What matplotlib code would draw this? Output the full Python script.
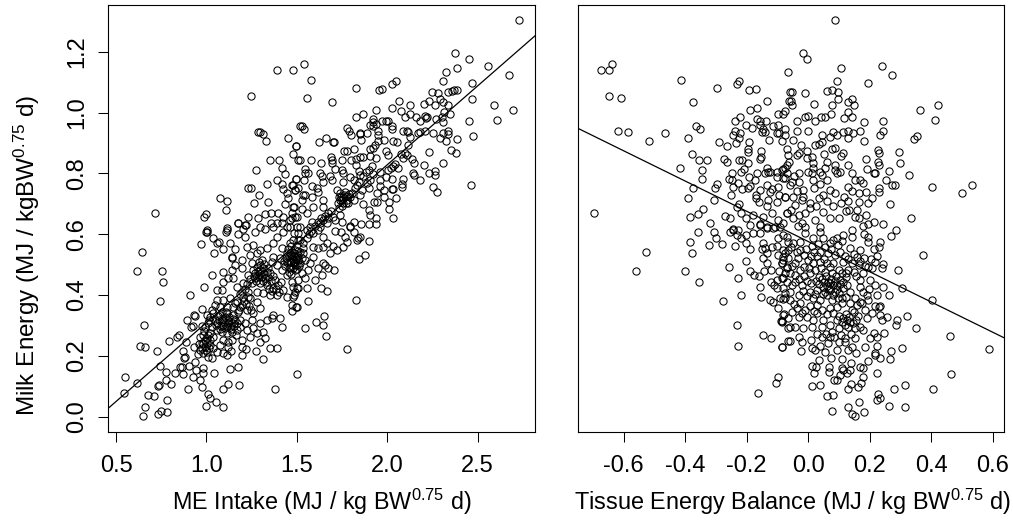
import matplotlib
matplotlib.use('Agg')
import matplotlib.pyplot as plt

plt.rcParams['font.family'] = ['Liberation Sans', 'DejaVu Sans']
plt.rcParams['mathtext.fontset'] = 'custom'
plt.rcParams['mathtext.rm'] = 'Liberation Sans'
plt.rcParams['mathtext.default'] = 'regular'

# (ME intake, milk energy)
intake_points = [
    (1.393,1.141),(1.480,1.141),(1.249,1.056),(1.286,.935),(1.297,.937),(1.312,.931),(1.330,.907),(1.454,.916),
    (1.498,.891),(1.480,.865),(1.354,.843),(1.404,.843),(1.417,.817),(1.434,.799),(1.275,.810),(1.389,.778),
    (1.337,.766),(1.232,.751),(1.247,.751),(1.293,.729),(1.077,.718),(1.114,.710),(1.264,.704),(1.343,.707),
    (1.109,.680),(.718,.671),(.996,.666),(.989,.655),
    (2.729,1.303),(2.376,1.196),(2.452,1.177),(2.389,1.148),(2.557,1.152),(2.326,1.134),(2.673,1.123),(2.308,1.105),
    (2.469,1.097),(1.540,1.160),(1.577,1.107),(1.559,1.049),(1.694,1.035),(1.826,1.082),(1.954,1.075),(1.974,1.079),
    (2.024,1.094),(2.048,1.105),(2.247,1.068),(2.284,1.064),(2.338,1.068),(2.360,1.071),(2.369,1.073),(2.389,1.075),
    (2.469,1.046),(2.066,1.038),(2.229,1.038),(2.290,1.046),(2.308,1.035),(2.203,1.027),(2.129,1.024),(2.266,1.024),
    (2.334,1.024),(2.029,1.016),(2.592,1.024),(2.697,1.009),(1.937,1.009),(2.074,1.005),(2.314,1.002),(1.869,.994),
    (1.826,.987),(2.129,.994),(2.098,.987),(2.160,.987),(2.210,.990),(2.221,.987),(2.216,.983),(2.302,.987),
    (2.345,.994),(2.269,.980),(2.179,.971),(2.308,.969),(2.452,.972),(2.607,.976),(1.919,.979),(1.919,.968),
    (1.974,.972),(1.993,.972),(2.005,.971),(1.939,.961),(1.906,.958),(1.919,.957),(2.029,.957),(2.029,.946),
    (1.777,.950),(1.791,.939),(1.801,.927),(1.529,.957),(1.540,.946),(1.948,.939),(1.948,.926),(1.887,.932),
    (1.850,.934),(1.847,.928),(2.090,.939),(2.112,.939),(2.118,.936),(2.173,.932),(2.184,.936),(2.207,.939),
    (2.253,.932),(2.339,.939),(2.339,.928),(2.308,.932),(2.476,.924),(2.129,.921),(1.856,.910),(1.980,.910),
    (2.389,.913),(2.295,.916),(2.326,.905),(1.664,.916),(1.622,.902),(1.703,.902),(1.708,.902),(1.496,.891),
    (2.035,.905),(2.053,.902),(1.948,.905),(1.935,.894),(2.114,.894),(1.906,.880),(1.924,.883),(1.762,.873),
    (1.780,.873),(1.819,.880),(2.352,.876),(2.382,.868),(2.234,.869),(1.993,.873),(2.005,.862),(2.079,.865),
    (2.098,.868),(2.112,.862),(1.688,.855),(1.694,.844),(1.906,.858),(1.869,.855),(1.850,.855),(1.937,.851),
    (2.135,.847),(2.148,.835),(1.515,.843),(1.577,.843),(1.633,.835),(1.749,.844),(1.801,.843),(1.826,.847),
    (2.085,.851),(2.308,.835),(2.203,.829),(2.046,.831),(2.035,.825),(2.059,.817),(2.022,.817),(1.546,.814),
    (1.564,.800),(1.546,.800),(1.694,.833),(1.712,.814),(1.749,.811),(1.826,.828),(1.845,.807),(1.850,.795),
    (2.266,.807),(2.266,.796),(2.229,.800),(2.142,.800),(2.148,.796),(1.961,.803),(1.924,.798),(2.002,.811),
    (1.629,.800),(1.638,.792),(1.684,.792),(1.694,.778),(2.183,.777),(2.085,.781),(2.026,.781),(1.993,.789),
    (1.496,.781),(1.540,.777),(1.758,.800),(1.795,.789),(1.814,.778),(1.758,.773),(1.906,.778),(1.887,.769),
    (1.961,.777),(1.647,.771),(2.081,.764),(2.081,.756),(2.026,.750),(2.035,.750),(2.253,.755),(2.277,.738),
    (2.463,.763),(1.961,.758),(1.980,.745),(1.943,.734),(1.583,.758),(1.611,.751),(1.620,.740),(1.546,.729),
    (1.537,.729),(1.491,.745),(1.472,.762),(1.860,.745),(1.850,.729),(1.897,.751),(2.048,.718),(1.980,.723),
    (1.721,.745),(1.740,.734),(1.758,.723),(1.777,.712),(1.740,.712),(1.767,.740),(1.795,.723),(1.814,.712),
    (1.731,.723),(1.786,.701),(1.758,.701),(1.647,.712),(1.583,.721),(1.528,.712),(1.592,.690),(1.647,.690),
    (1.869,.699),(1.946,.707),(1.928,.705),(2.011,.705),(2.011,.682),(1.897,.680),(1.906,.663),(1.937,.654),
    (1.939,.633),(1.898,.633),(2.035,.652),(1.854,.633),(1.814,.641),(1.795,.624),(1.481,.690),(1.528,.682),
    (1.500,.657),(1.472,.652),(1.555,.668),(1.675,.668),(1.703,.657),(1.647,.647),(1.629,.636),(1.666,.636),
    (1.712,.646),(1.740,.663),(1.583,.641),(1.749,.641),
    (1.795,.627),(1.814,.608),(1.767,.592),(1.780,.575),(1.841,.586),(1.850,.592),(1.832,.581),(1.898,.579),
    (1.745,.608),(1.712,.611),(1.755,.557),(1.721,.548),(1.703,.561),(1.880,.530),(1.843,.519),(1.684,.537),
    (1.707,.482),(1.647,.504),(1.657,.498),(1.675,.488),(1.620,.488),(1.638,.466),(1.601,.449),(1.564,.482),
    (1.633,.424),(1.666,.413),(1.559,.424),(1.564,.380),(1.825,.383),(1.651,.331),(1.609,.310),(1.646,.301),
    (1.546,.291),(1.664,.265),(1.775,.221),(1.502,.141),(1.496,.361),(1.472,.348),
    (1.509,.603),(1.518,.581),(1.555,.614),(1.592,.603),(1.620,.614),(1.647,.592),(1.666,.570),(1.629,.625),
    (1.574,.625),(1.518,.625),(1.481,.581),(1.491,.548),(1.537,.570),(1.592,.559),(1.620,.553),(1.647,.559),
    (1.500,.526),(1.537,.537),(1.481,.515),(1.518,.504),(1.546,.515),(1.592,.526),(1.574,.504),(1.491,.482),
    (1.528,.471),(1.546,.455),(1.509,.449),(1.481,.427),(1.491,.411),(1.509,.422),(1.481,.394),
    (1.47,.53),(1.49,.51),(1.50,.50),(1.48,.49),(1.46,.51),(1.46,.49),(1.47,.47),(1.52,.54),(1.44,.52),(1.45,.55),(1.47,.56),
    (.644,.541),(.618,.479),(.755,.479),(.762,.443),(.744,.380),(.655,.302),(.631,.232),(.662,.229),(.729,.214),
    (.742,.167),(.550,.130),(.618,.110),(.544,.077),(.679,.071),(.712,.067),(.734,.101),(.738,.104),(.775,.119),
    (.804,.108),(.779,.148),(.662,.030),(.649,.001),(.784,.055),(.749,.019),(.784,.016),(.734,.008),(.898,.089),
    (.825,.144),(.873,.141),(.854,.163),(.863,.163),(.924,.130),(.965,.119),(.978,.097),(1.044,.144),(1.120,.108),
    (1.089,.089),(1.181,.104),(1.133,.155),(1.175,.163),(1.009,.075),(1.020,.060),(1.052,.049),(.996,.034),(1.089,.030),
    (1.380,.089),(1.312,.188),(1.349,.225),(1.393,.225),(1.275,.214),(1.220,.221),(1.197,.203),(1.297,.244),
    (1.323,.258),(.791,.247),(.839,.260),(.849,.269),(.891,.318),(.915,.294),(.930,.335),(.937,.330),(.928,.299),
    (.887,.244),(.930,.229),(.873,.214),(.882,.197),(.878,.191),(.904,.167),(.934,.180),(.943,.153),(.983,.158),(.983,.142),
    (.910,.401),(.989,.427),(.978,.354),(.972,.568),(.996,.608),(1.005,.608),(1.039,.586),(1.057,.570),(1.044,.539),
    (1.072,.575),(1.133,.570),(1.089,.550),(1.157,.550),(1.144,.524),(1.107,.608),(1.114,.614),(1.175,.636),(1.218,.630),
    (1.175,.600),(1.214,.590),(1.205,.616),(1.269,.608),(1.325,.616),
    (.965,.263),(.983,.268),(1.002,.257),(.974,.241),(.993,.230),(.965,.219),(.983,.208),(1.002,.213),(1.011,.197),
    (1.029,.191),(1.020,.235),(1.039,.224),(1.057,.213),(1.076,.235),(1.094,.252),(1.122,.246),(1.140,.252),(1.122,.230),
    (1.135,.217),(1.089,.208),(1.113,.204),(1.196,.252),(1.196,.230),(1.164,.268),
    (1.002,.334),(1.020,.328),(1.011,.307),(1.029,.296),(.993,.296),(1.057,.285),(1.085,.279),(1.113,.274),(1.140,.279),
    (1.168,.285),(1.186,.296),(1.057,.307),(1.085,.317),(1.103,.328),(1.122,.317),(1.140,.307),(1.159,.317),(1.094,.301),
    (1.131,.296),(1.168,.307),(1.076,.334),(1.113,.339),(1.149,.334),(1.186,.317),(1.214,.307),
    (1.057,.383),(1.094,.383),(1.131,.389),(1.168,.378),(1.205,.394),(1.242,.389),(1.279,.378),(1.297,.356),(1.260,.339),
    (1.223,.350),(1.186,.361),(1.149,.361),(1.113,.361),(1.076,.361),(1.334,.317),(1.362,.323),(1.408,.323),(1.417,.293),
    (1.371,.334),(1.251,.317),(1.297,.307),(1.260,.290),(1.223,.285),(1.279,.274),(1.315,.279),(1.242,.263),
    (1.260,.482),(1.279,.493),(1.297,.482),(1.315,.488),(1.334,.477),(1.288,.466),(1.306,.460),(1.325,.455),(1.343,.460),
    (1.269,.455),(1.251,.438),(1.297,.438),(1.334,.433),(1.371,.422),(1.398,.433),(1.426,.416),(1.389,.400),(1.352,.400),
    (1.315,.405),(1.279,.411),(1.232,.411),(1.196,.411),(1.168,.427),(1.205,.438),(1.149,.455),(1.122,.455),(1.094,.444),
    (1.085,.416),(1.057,.416),(1.033,.466),(1.089,.477),(1.140,.482),(1.196,.488),(1.251,.504),(1.306,.515),(1.362,.510),
    (1.389,.498),(1.417,.482),(1.445,.466),(1.472,.444),(1.482,.400),(1.445,.394),(1.500,.422),(1.472,.367),(1.500,.361),
    (1.223,.559),(1.260,.564),(1.242,.531),(1.279,.537),(1.297,.548),(1.334,.553),(1.371,.570),(1.389,.592),(1.426,.608),
    (1.463,.625),(1.482,.603),(1.509,.581),(1.463,.570),(1.417,.553),(1.445,.537),(1.482,.537),(1.509,.515),(1.482,.504),
    (1.463,.493),(1.445,.509),(1.408,.520),(1.371,.526),(1.159,.498),(1.140,.520),(1.196,.515),
    (1.177,.636),(1.214,.630),(1.232,.658),(1.288,.652),(1.325,.666),(1.356,.671),(1.356,.636),(1.398,.668),(1.389,.636),
    (1.426,.658),(1.472,.668),(1.491,.658),(1.482,.690),(1.435,.699),(1.454,.718),(1.448,.736),(1.496,.780),(1.491,.745),
    (1.423,.748),(1.417,.764),(1.478,.762),(1.509,.751),(1.509,.844),(1.518,.957),(1.297,.625),(1.371,.625),(1.445,.625),
    (1.500,.625),(1.463,.647),(1.417,.636),(1.002,.614),(1.113,.619),
    # tightly packed core of the band
    (1.052,.302),(1.068,.316),(1.079,.297),(1.092,.322),(1.103,.291),(1.118,.305),(1.127,.327),(1.138,.289),(1.151,.298),
    (1.066,.331),(1.084,.345),(1.099,.312),(1.112,.299),(1.125,.311),(1.046,.318),(1.073,.288),(1.107,.343),(1.145,.321),
    (.982,.239),(.991,.251),(1.004,.243),(1.013,.226),(.973,.225),(.997,.219),(1.008,.268),(.985,.282),(1.019,.252),(.976,.298),
    (1.022,.276),(1.036,.263),(.958,.238),(.952,.207),(1.012,.319),(1.031,.352),(1.046,.368),(1.038,.341),
    (1.271,.471),(1.283,.478),(1.292,.459),(1.304,.472),(1.312,.447),(1.321,.469),(1.277,.447),(1.261,.463),(1.331,.442),
    (1.339,.488),(1.352,.473),(1.289,.508),(1.298,.497),(1.318,.502),(1.345,.421),(1.358,.447),(1.366,.461),(1.378,.448),
    (1.385,.421),(1.402,.409),(1.412,.441),(1.364,.412),(1.229,.467),(1.241,.452),(1.222,.436),(1.212,.419),(1.187,.402),
    (1.474,.521),(1.484,.528),(1.496,.519),(1.468,.507),(1.505,.532),(1.476,.541),(1.455,.527),(1.451,.505),(1.462,.538),
    (1.489,.497),(1.499,.486),(1.514,.496),(1.527,.522),(1.458,.476),(1.436,.494),(1.428,.512),(1.505,.545),(1.532,.553),
    (1.555,.588),(1.566,.601),(1.578,.611),(1.603,.628),(1.617,.641),(1.634,.652),(1.658,.661),(1.671,.652),(1.692,.676),
    (1.727,.701),(1.744,.722),(1.752,.711),(1.763,.729),(1.771,.702),(1.779,.724),(1.788,.733),(1.749,.692),(1.736,.686),
    (1.803,.736),(1.821,.752),(1.833,.761),(1.842,.771),(1.866,.792),(1.882,.803),(1.901,.812),(1.917,.824),
    (1.198,.368),(1.207,.381),(1.219,.371),(1.228,.392),(1.238,.362),(1.248,.349),(1.172,.344),(1.181,.351),(1.156,.372),
]

# (tissue energy balance, milk energy)
balance_points = [
    (-.639,1.160),(-.672,1.141),(-.646,1.141),(-.646,1.056),(-.607,1.049),(-.617,.938),(-.584,.935),(-.516,.905),
    (-.464,.932),(-.391,.916),(-.363,.957),(-.351,.946),(-.413,1.108),(-.373,1.035),(-.296,1.082),(-.232,1.094),
    (-.224,1.105),(-.192,1.075),(-.169,1.079),(-.133,1.038),(-.188,1.009),(-.166,1.016),(-.064,1.134),(-.059,1.068),
    (-.061,1.038),(-.097,.994),(-.082,.994),(-.075,1.005),(-.221,.987),(-.238,.972),(-.202,.960),(-.181,.950),
    (-.167,.980),(-.156,.972),(-.137,.972),(-.156,.959),(-.145,.946),(-.151,.937),(-.140,.937),(-.115,.957),
    (-.097,.960),(-.075,.946),(-.238,.939),(-.221,.932),(-.243,.927),(-.225,.916),(-.235,.901),(-.289,.902),
    (-.264,.891),(-.192,.902),(-.194,.880),(-.194,.871),(-.126,.910),(-.102,.932),(-.093,.932),(-.075,.925),
    (-.086,.905),(-.069,.880),(-.376,.865),(-.356,.843),(-.330,.843),(-.344,.810),(-.344,.780),(-.416,.818),
    (-.272,.847),(-.264,.836),(-.223,.843),(-.216,.843),(-.195,.835),(-.152,.873),(-.152,.855),(-.156,.846),
    (-.134,.817),(-.129,.806),(-.140,.800),(-.208,.814),(-.217,.803),(-.246,.800),(-.256,.780),(-.246,.778),
    (-.191,.789),(-.167,.800),(-.173,.777),(-.124,.803),(-.100,.803),(-.082,.814),(-.069,.828),(-.100,.789),
    (-.080,.784),(-.297,.764),(-.301,.751),(-.373,.751),(-.391,.718),(-.305,.711),(-.228,.767),(-.243,.755),
    (-.216,.747),(-.195,.751),(-.189,.758),(-.249,.729),(-.156,.745),(-.134,.762),(-.118,.747),(-.097,.756),
    (-.124,.740),(-.169,.729),(-.169,.718),(-.161,.707),(-.093,.729),(-.075,.721),(-.129,.712),(-.102,.705),
    (-.134,.693),(-.224,.699),(-.230,.690),(-.217,.668),(-.180,.663),(-.697,.671),(-.340,.682),(-.359,.666),
    (-.384,.655),(-.319,.637),(-.269,.660),(-.254,.652),(-.202,.652),(-.156,.633),(-.145,.658),(-.118,.668),
    (-.097,.647),(-.080,.636),(-.069,.668),(-.107,.625),(-.134,.625),(-.189,.630),(-.243,.616),
    (-.526,.541),(-.558,.479),(-.399,.479),(-.376,.537),(-.384,.574),(-.354,.443),(-.359,.608),(-.305,.608),
    (-.300,.586),(-.322,.564),(-.279,.568),(-.254,.608),(-.243,.614),(-.227,.614),(-.232,.597),(-.219,.586),
    (-.202,.597),(-.239,.560),(-.202,.570),(-.188,.550),(-.203,.513),(-.257,.493),(-.228,.457),(-.217,.401),
    (-.275,.380),(-.188,.479),(-.177,.464),(-.158,.463),(-.144,.479),(-.122,.482),(-.093,.479),(-.155,.427),
    (-.152,.394),(-.124,.383),(-.113,.378),(-.097,.356),(-.091,.389),(-.080,.385),(-.119,.443),(-.111,.433),
    (-.100,.422),(-.080,.455),(-.102,.449),(-.075,.405),(-.231,.302),(-.147,.269),(-.122,.258),(-.228,.232),
    (-.086,.229),(-.089,.315),(-.086,.315),(-.078,.336),(-.064,.292),(-.064,.247),(-.097,.131),(-.104,.111),(-.162,.078),
    (-.178,.603),(-.156,.630),(-.134,.619),(-.113,.619),(-.091,.625),(-.156,.603),(-.080,.597),(-.064,.575),(-.097,.586),
    (-.145,.570),(-.140,.553),(-.118,.557),(-.102,.561),(-.151,.550),(-.134,.537),(-.147,.520),(-.134,.506),(-.097,.531),
    (-.075,.537),(-.086,.504),(-.069,.488),(-.080,.515),(-.064,.548),
    (.089,1.303),(-.017,1.196),(-.005,1.177),(.106,1.148),(.239,1.152),(.274,1.123),(.093,1.105),
    (.194,1.097),(-.053,1.068),(-.010,1.064),(.061,1.071),(.077,1.074),(.097,1.068),(.097,1.046),(-.056,1.038),
    (-.053,1.024),(.020,1.027),(.077,1.024),(.131,1.035),(.143,1.046),(.148,1.024),(.129,1.002),(.143,.987),(.118,.982),
    (.074,.994),(.041,.987),(.055,.987),(.023,.972),(.001,.990),(-.010,.987),(-.035,.972),(-.035,.939),(.001,.939),
    (.183,.968),(.242,.972),(.245,.939),(.234,.927),(.364,1.009),(.423,1.024),(.412,.976),(.355,.924),(.344,.913),
    (.169,.939),(.183,.905),(.080,.936),(.095,.927),(.115,.936),(.129,.939),(.145,.932),(.131,.916),(.045,.927),
    (.072,.921),(.045,.902),(.034,.896),(.023,.894),(-.048,.910),(-.024,.894),(.077,.880),
    (.086,.883),(.053,.865),(.113,.866),(.106,.858),(.227,.877),(.231,.868),(.296,.869),(.299,.835),(.188,.847),
    (.227,.836),(.231,.829),(.191,.814),(.329,.796),(.263,.807),(.253,.777),(.272,.763),(.283,.763),(.213,.800),
    (.217,.800),(.402,.755),(.500,.737),(.532,.763),(-.064,.860),(-.037,.860),(-.031,.866),(-.002,.873),
    (-.002,.851),(.012,.855),(.017,.833),(.017,.817),(-.061,.838),(-.075,.817),(-.086,.811),(-.069,.800),(.061,.836),
    (.055,.817),(.088,.828),(.088,.811),(.104,.806),(.129,.829),(.093,.800),(.001,.806),(.012,.800),(-.031,.800),
    (.039,.806),(.045,.795),(.061,.778),(.017,.778),(.039,.764),(-.031,.773),(-.053,.773),(-.075,.784),(.142,.800),
    (.153,.778),(.169,.778),(.177,.767),(.131,.754),(.164,.734),(.166,.705),(.196,.701),(.209,.718),(.231,.751),
    (.231,.740),(.267,.700),(.072,.745),(.050,.729),(.034,.718),(-.015,.745),(-.015,.723),(.007,.701),(-.048,.723),
    (-.075,.723),(.088,.734),(.106,.701),(.007,.685),(-.010,.668),(.050,.674),(.072,.652),(.099,.652),(.124,.677),
    (.134,.679),(.158,.679),(.166,.652),(.188,.663),(.196,.633),(.213,.641),(.242,.633),(.336,.652),(-.069,.668),
    (-.048,.652),(-.021,.638),(-.010,.625),(.039,.625),(.142,.614),(.285,.614),
    (.270,.594),(.373,.530),(.293,.482),(.245,.502),(.239,.490),(.304,.423),(.402,.383),(.263,.399),(.245,.427),
    (.223,.399),(.217,.432),(.321,.332),(.288,.319),(.285,.302),(.350,.291),(.460,.265),(.587,.221),(.464,.141),
    (.405,.089),(.314,.104),(.278,.089),(.227,.075),(.234,.060),(.223,.055),(.263,.034),(.314,.030),(.165,.049),
    (.183,.016),(.154,.001),(.143,.008),(.129,.030),(.078,.019),(.060,.067),(.081,.071),(.129,.089),(.140,.108),
    (.162,.097),(.172,.109),(.012,.100),(.038,.104),(.085,.119),(.093,.119),(.177,.130),(.223,.144),(.169,.163),
    (.180,.158),(.194,.181),(.234,.191),(.218,.204),(.267,.188),(.270,.214),(.307,.225),(.185,.230),(.223,.232),
    (.218,.208),(.014,.167),(.026,.164),(.020,.144),(.067,.164),(.067,.147),(.110,.158),(.115,.153),(.104,.136),
    (.126,.142),(.137,.153),(.139,.175),(.155,.208),(.111,.188),(.074,.192),(.037,.186),(-.024,.214),(-.060,.247),
    (-.021,.244),(-.086,.230),(.009,.252),(.012,.224),(.023,.219),(.039,.232),(.055,.213),(.093,.219),(.131,.219),
    (.142,.230),(.120,.246),(.099,.246),(.066,.241),(-.031,.263),(.072,.263),(.153,.257),(.202,.257),(.223,.260),
    (.248,.274),(.213,.274),(.180,.285),(.153,.290),(.169,.296),(.191,.323),(.240,.317),(.234,.334),(.256,.329),
    (.229,.361),(.234,.364),(.175,.372),(.169,.378),(.196,.383),
    (-.058,.296),(-.042,.296),(-.015,.290),(.012,.296),(.045,.296),(.072,.301),(.099,.290),(.131,.296),(.137,.312),
    (.115,.323),(.093,.317),(.050,.317),(.017,.317),(-.004,.329),(-.031,.329),(-.053,.345),(-.064,.323),(-.080,.334),
    (-.086,.312),(.137,.372),(.142,.350),(.110,.372),(.077,.383),(.061,.400),(.039,.383),(.028,.367),(.017,.389),
    (.045,.350),(.072,.356),(.093,.361),(-.026,.372),(-.058,.383),(-.075,.389),(-.058,.411),(-.080,.422),(-.031,.400),
    (.007,.411),(.028,.416),(.050,.427),(.072,.438),(.093,.433),(.115,.422),(.137,.411),(.169,.427),(.180,.411),
    (.191,.400),(.169,.449),(.202,.449),(.066,.444),(.082,.433),(.072,.416),(.055,.411),(.088,.411),(.104,.449),
    (.110,.471),(.099,.482),(.082,.504),(.061,.504),(.039,.509),(.017,.504),(.001,.515),(.039,.542),(.066,.537),
    (.088,.531),(.115,.509),(.142,.504),(.164,.499),(.196,.493),(.207,.490),(.185,.496),(.158,.526),(.169,.548),
    (.196,.575),(.213,.550),(.229,.557),(.234,.575),(.196,.592),(.183,.601),(.137,.553),(.142,.592),(.115,.597),
    (.082,.581),(.050,.586),(.039,.608),(.017,.586),(-.010,.603),(-.026,.575),(-.026,.548),(-.048,.570),(-.069,.592),
    (-.080,.548),(-.064,.520),(-.042,.504),(-.026,.482),(.007,.471),(.034,.460),(.055,.476),(-.069,.493),(-.042,.466),
    (-.021,.433),(-.058,.471),(-.086,.455),(-.086,.504),(-.080,.526),
    # tightly packed core of the cloud
    (.051,.441),(.063,.429),(.074,.452),(.086,.447),(.094,.418),(.103,.437),(.058,.461),(.079,.471),(.091,.463),(.068,.422),
    (.044,.451),(.081,.401),(.102,.408),(.113,.441),(.122,.459),(.128,.433),(.035,.437),(.026,.447),(.048,.403),(.097,.391),
    (.071,.492),(.052,.518),(.028,.527),(.019,.541),(.008,.529),(.074,.551),(.096,.563),(.105,.541),(.121,.528),(.131,.517),
    (.148,.536),(.111,.576),(.093,.588),(.071,.571),(.056,.559),(.031,.566),(.012,.561),(-.006,.552),(-.014,.531),(-.033,.523),
    (.109,.311),(.119,.302),(.126,.319),(.134,.327),(.146,.307),(.157,.318),(.161,.331),(.123,.338),(.149,.344),(.102,.332),
    (.018,.348),(.029,.341),(.006,.362),(-.009,.351),(-.021,.342),(-.037,.357),(-.047,.371),(.062,.336),(.081,.341),
    (.059,.272),(.077,.277),(.085,.262),(.044,.262),(.028,.271),(.106,.268),(.121,.259),(.138,.271),
    (-.041,.441),(-.052,.432),(-.031,.451),(-.013,.461),(-.004,.447),(.011,.438),(-.017,.413),(-.003,.398),(.022,.402),
    (-.067,.441),(-.076,.473),(-.053,.494),(-.037,.541),(-.056,.557),(-.012,.492),(.004,.489),(.023,.482),(.043,.487),
    (-.045,.792),(-.058,.762),(-.037,.741),(-.021,.712),(-.041,.695),(-.056,.681),(-.029,.662),(.019,.752),(.027,.692),(.063,.708),
    (.081,.691),(.118,.722),(.129,.708),(.144,.742),(.187,.738),(.151,.656),(.178,.626),(.021,.648),(-.034,.627),
    (.109,.389),(.124,.392),(.151,.389),(.158,.366),(.186,.351),(.207,.341),(.216,.362),(.199,.421),(.157,.461),(.148,.477),
    (.131,.483),(.124,.471),(.177,.471),(.168,.512),(.181,.521),(.203,.517),(.219,.509),(.223,.527),
]

# fitted lines, slope and intercept
intake_slope = 0.519
intake_intercept = -0.210
balance_slope = -0.4975
balance_intercept = 0.576

intake_ticks = [0.5, 1.0, 1.5, 2.0, 2.5]
balance_ticks = [-0.6, -0.4, -0.2, 0.0, 0.2, 0.4, 0.6]
milk_ticks = [0.0, 0.2, 0.4, 0.6, 0.8, 1.0, 1.2]

W, H = 1013, 522

def panel(box, points, slope, intercept, xlim, xticks):
    left, top, right, bottom = box
    ax = fig.add_axes([left / W, 1 - bottom / H, (right - left) / W, (bottom - top) / H])
    xs = [p[0] for p in points]
    ys = [p[1] for p in points]
    ax.plot(xs, ys, linestyle='none', marker='o', markersize=5.2, markerfacecolor='none',
            markeredgecolor='black', markeredgewidth=0.75)
    ax.axline((0, intercept), slope=slope, color='black', linewidth=0.9)
    ax.set_xlim(xlim)
    ax.set_ylim(-0.05, 1.354)
    ax.set_xticks(xticks)
    ax.set_xticklabels([f'{t:.1f}' for t in xticks])
    ax.tick_params(axis='x', length=7.2, width=0.75, labelsize=17, pad=9.5)
    ax.tick_params(axis='y', length=7.2, width=0.75, labelsize=17, pad=7.5)
    for s in ax.spines.values():
        s.set_linewidth(0.8)
    return ax

fig = plt.figure(figsize=(W / 100, H / 100), dpi=100)

ax1 = panel((108.3, 5, 535, 431.7), intake_points, intake_slope, intake_intercept, (0.457, 2.818), intake_ticks)
ax1.set_yticks(milk_ticks)
ax1.set_yticklabels([f'{t:.1f}' for t in milk_ticks], rotation=90, va='center')

ax2 = panel((578, 5, 1004, 431.7), balance_points, balance_slope, balance_intercept, (-0.748, 0.637), balance_ticks)
ax2.set_yticks([])

fig.text(322 / W, 1 - 502 / H, r'ME Intake (MJ / kg BW$^{0.75}$ d)', ha='center', va='center', fontsize=16.8)
fig.text(792 / W, 1 - 502 / H, r'Tissue Energy Balance (MJ / kg BW$^{0.75}$ d)', ha='center', va='center', fontsize=16.9)
fig.text(27 / W, 1 - 255 / H, r'Milk Energy (MJ / kgBW$^{0.75}$ d)', ha='center', va='center', rotation=90, fontsize=17.5)

fig.savefig('out.png', dpi=100)
